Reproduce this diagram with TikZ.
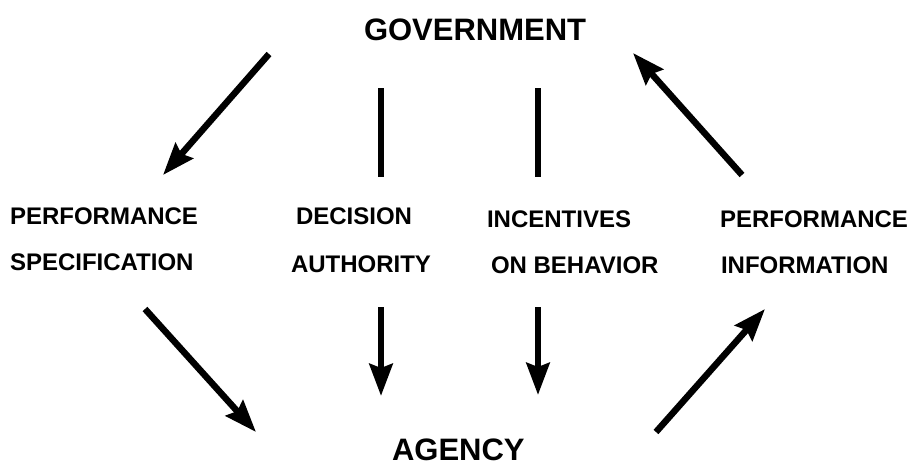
\documentclass[tikz,border=0pt]{standalone}
\usepackage{fontspec}
\setmainfont{Liberation Sans}
\usetikzlibrary{arrows.meta}
\tikzset{
  lbl/.style={inner sep=0pt, outer sep=0pt, anchor=base west, font=\bfseries\fontsize{24}{28}\selectfont},
  big/.style={inner sep=0pt, outer sep=0pt, anchor=base west, font=\bfseries\fontsize{31}{36}\selectfont},
  conn/.style={line width=6.5pt, line cap=butt},
  arr/.style={conn, -{Stealth[length=32pt, width=23pt, inset=4pt]}},
}
\begin{document}
\begin{tikzpicture}[x=1pt, y=-1pt]
\useasboundingbox (0,0) rectangle (910,466);
\node[big] (gov) at (364,40) {GOVERNMENT};
\node[big] (agency) at (392,460) {AGENCY};
\node[lbl] (perf1) at (10,224) {PERFORMANCE};
\node[lbl] (spec) at (10,270) {SPECIFICATION};
\node[lbl] (dec) at (296,224) {DECISION};
\node[lbl] (auth) at (291,272) {AUTHORITY};
\node[lbl] (inc) at (487,227) {INCENTIVES};
\node[lbl] (beh) at (491,273) {ON BEHAVIOR};
\node[lbl] (perf2) at (720,227) {PERFORMANCE};
\node[lbl] (info) at (721,273) {INFORMATION};
% connector end points
\coordinate (a1s) at (269,54);  \coordinate (a1e) at (163,175);
\coordinate (a2s) at (742,175); \coordinate (a2e) at (633,53);
\coordinate (a3s) at (145,309); \coordinate (a3e) at (256,432);
\coordinate (a4s) at (656,432); \coordinate (a4e) at (765,309);
\coordinate (v1s) at (381,88);  \coordinate (v1e) at (381,177);
\coordinate (v2s) at (538,88);  \coordinate (v2e) at (538,177);
\coordinate (d1s) at (381,307); \coordinate (d1e) at (381,396);
\coordinate (d2s) at (538,307); \coordinate (d2e) at (538,395);
\draw[arr] (a1s) -- (a1e);
\draw[arr] (a2s) -- (a2e);
\draw[arr] (a3s) -- (a3e);
\draw[arr] (a4s) -- (a4e);
\draw[conn] (v1s) -- (v1e);
\draw[conn] (v2s) -- (v2e);
\draw[arr] (d1s) -- (d1e);
\draw[arr] (d2s) -- (d2e);
\end{tikzpicture}
\end{document}
